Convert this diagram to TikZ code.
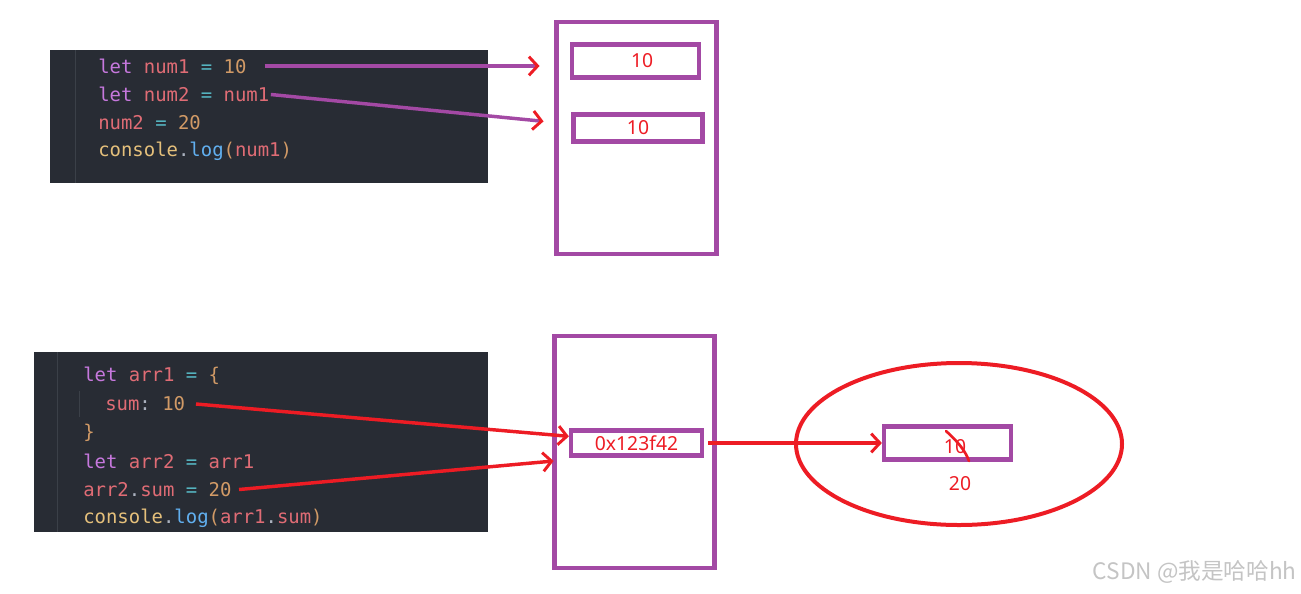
\documentclass[tikz,border=0pt]{standalone}
\usepackage{fontspec}
\setmainfont{Noto Sans}
\setmonofont{DejaVu Sans Mono}
\newfontfamily\cjkfont{Noto Sans CJK SC}
\usepackage{xcolor}
\usetikzlibrary{positioning, arrows.meta, shapes.geometric}

\definecolor{paintpurple}{HTML}{A349A4}
\definecolor{paintred}{HTML}{ED1C24}
\definecolor{editorbg}{HTML}{282C34}
\definecolor{guide}{HTML}{3B4048}
\definecolor{kwc}{HTML}{C678DD}
\definecolor{varc}{HTML}{E06C75}
\definecolor{opc}{HTML}{56B6C2}
\definecolor{numc}{HTML}{D19A66}
\definecolor{objc}{HTML}{E5C07B}
\definecolor{fnc}{HTML}{61AFEF}
\definecolor{punc}{HTML}{ABB2BF}
\definecolor{markc}{HTML}{C4C4C4}

\newcommand{\kw}[1]{\textcolor{kwc}{#1}}
\newcommand{\vr}[1]{\textcolor{varc}{#1}}
\newcommand{\op}[1]{\textcolor{opc}{#1}}
\newcommand{\nm}[1]{\textcolor{numc}{#1}}
\newcommand{\ob}[1]{\textcolor{objc}{#1}}
\newcommand{\fn}[1]{\textcolor{fnc}{#1}}
\newcommand{\pu}[1]{\textcolor{punc}{#1}}
\newcommand{\br}[1]{\textcolor{numc}{#1}}

\begin{document}
\begin{tikzpicture}[
  x=0.75pt, y=-0.75pt,
  codeline/.style={anchor=west, inner sep=0pt, font=\ttfamily\fontsize{14.2}{16}\selectfont},
  frame/.style={draw=paintpurple, line width=3.4pt, minimum width=120pt, minimum height=174pt},
  cell/.style={draw=paintpurple, line width=3.4pt, text=paintred, inner sep=0pt, font=\fontsize{14.5}{16}\selectfont},
  valtext/.style={text=paintred, inner sep=0pt, font=\fontsize{14.5}{16}\selectfont},
  numarrow/.style={paintpurple, line width=2.6pt, -{Straight Barb[length=6.5pt, width=14pt, color=paintred, line width=2.2pt]}},
  refarrow/.style={paintred, line width=2.6pt, -{Straight Barb[length=6.5pt, width=14pt, line width=2.2pt]}}
]
\useasboundingbox (0,0) rectangle (1301,593);

% editor panels
\fill[editorbg] (50,50) rectangle (488,183);
\draw[guide, line width=0.75pt] (75,50) -- (75,183);
\fill[editorbg] (34,352) rectangle (488,532);
\draw[guide, line width=0.75pt] (57,352) -- (57,532);
\draw[guide, line width=0.75pt] (79,391) -- (79,417);

% primitive values
\node[codeline] (n1) at (98,66) {\kw{let} \vr{num1} \op{=} \nm{10}};
\node[codeline] (n2) at (98,94.5) {\kw{let} \vr{num2} \op{=} \vr{num1}};
\node[codeline] (n3) at (98,123) {\vr{num2} \op{=} \nm{20}};
\node[codeline] (n4) at (98,151) {\ob{console}\pu{.}\fn{log}\br{(}\vr{num1}\br{)}};

\node[frame] (stack1) at (636.5,138) {};
\node[cell, minimum width=95pt, minimum height=25pt, text width=95pt, align=center] (cell1) at (635.5,61) {\hspace*{10pt}10};
\node[cell, minimum width=97pt, minimum height=20.6pt] (cell2) at (638,128) {10};

\draw[numarrow] ([xshift=13.5pt]n1.east) -- ([xshift=-11pt]stack1.west |- n1.east);
\draw[numarrow] ([xshift=1pt]n2.east) -- ([shift={(-8pt,5pt)}]stack1.west |- cell2.west);

% reference values
\node[codeline] (a1) at (83,376) {\kw{let} \vr{arr1} \op{=} \br{\{}};
\node[codeline] (a2) at (105,404) {\vr{sum}\pu{:} \nm{10}};
\node[codeline] (a3) at (83,432.5) {\br{\}}};
\node[codeline] (a4) at (83,461) {\kw{let} \vr{arr2} \op{=} \vr{arr1}};
\node[codeline] (a5) at (83,489.5) {\vr{arr2}\pu{.}\vr{sum} \op{=} \nm{20}};
\node[codeline] (a6) at (83,518) {\ob{console}\pu{.}\fn{log}\br{(}\vr{arr1}\pu{.}\vr{sum}\br{)}};

\node[frame] (stack2) at (634.5,452) {};
\node[cell, minimum width=98pt, minimum height=19pt] (cell3) at (636.5,443) {0x123f42};

\node[ellipse, draw=paintred, line width=3pt, minimum width=244.5pt, minimum height=121.5pt] (heap) at (959,444) {};
\node[cell, minimum width=95pt, minimum height=25pt] (cell4) at (947.5,443) {};
\node[valtext] (old) at (955,447) {10};
\node[valtext] (new) at (960,484) {20};
\draw[paintred, line width=2pt, line cap=round] (946,431) .. controls (957,441) and (965,450) .. (969,461);

\draw[refarrow] ([xshift=8pt]a2.east) -- ([yshift=5pt]cell3.west);
\draw[refarrow] ([xshift=5.5pt]a5.east) -- ([shift={(1pt,-6.75pt)}]stack2.west);
\draw[refarrow] ([xshift=3pt]cell3.east) -- (cell4.west);

\node[anchor=east, text=markc, inner sep=0pt, font=\cjkfont\fontsize{17}{20}\selectfont] (mark) at (1297,572) {CSDN @我是哈哈hh};
\end{tikzpicture}
\end{document}
